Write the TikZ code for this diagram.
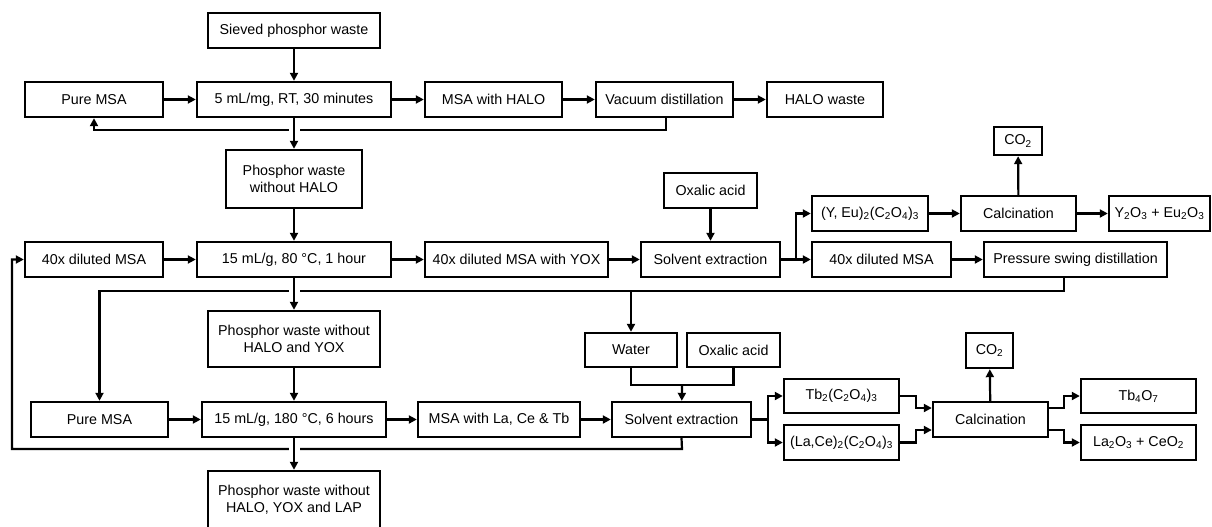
\documentclass[tikz,border=0pt]{standalone}
\usepackage{fontspec}
\setmainfont{Liberation Sans}
\usetikzlibrary{arrows.meta}
\begin{document}
\begin{tikzpicture}[x=1pt,y=-1pt,
  box/.style={draw, line width=2.4pt, inner sep=0pt, align=center,
    minimum height=35pt, font=\fontsize{14.3}{17}\selectfont},
  arr/.style={line width=2.2pt, -{Triangle[length=8pt,width=8pt]}},
  link/.style={line width=2.2pt},
  bridge/.style={preaction={draw, -, white, line width=11pt, shorten <=8pt, shorten >=8pt}}
]
\useasboundingbox (0,0) rectangle (1212,527);

% ---- stage 1: room-temperature leaching ----
\node[box, minimum width=172pt] (sieved) at (294,30.5) {Sieved phosphor waste};
\node[box, minimum width=138pt] (pure1) at (94,99.5) {Pure MSA};
\node[box, minimum width=194pt] (mix1) at (294,99.5) {5 mL/mg, RT, 30 minutes};
\node[box, minimum width=137pt] (msahalo) at (493.5,99.5) {MSA with HALO};
\node[box, minimum width=137pt] (vac) at (664.5,99.5) {Vacuum distillation};
\node[box, minimum width=116pt] (halow) at (825,99.5) {HALO waste};
\node[box, minimum width=136pt, minimum height=58pt] (pw1) at (294,179) {Phosphor waste\\without HALO};

% ---- stage 2: 80 °C leaching ----
\node[box, minimum width=138pt] (dil1) at (94,259.5) {40x diluted MSA};
\node[box, minimum width=194pt] (mix2) at (294,259.5) {15 mL/g, 80 °C, 1 hour};
\node[box, minimum width=183pt] (dilyox) at (516.5,259.5) {40x diluted MSA with YOX};
\node[box, minimum width=93pt] (ox1) at (710.5,190.5) {Oxalic acid};
\node[box, minimum width=139pt] (se1) at (710.5,259.5) {Solvent extraction};
\node[box, minimum width=116pt] (yeu) at (870,213.5) {(Y, Eu)\textsubscript{2}(C\textsubscript{2}O\textsubscript{4})\textsubscript{3}};
\node[box, minimum width=115pt] (calc1) at (1018.5,213.5) {Calcination};
\node[box, minimum width=101pt] (yeo) at (1159.5,213.5) {Y\textsubscript{2}O\textsubscript{3} + Eu\textsubscript{2}O\textsubscript{3}};
\node[box, minimum width=48pt, minimum height=28pt] (co2a) at (1018,141) {CO\textsubscript{2}};
\node[box, minimum width=139pt] (dil2) at (881.5,259.5) {40x diluted MSA};
\node[box, minimum width=183pt] (psd) at (1075.5,259.5) {Pressure swing distillation};
\node[box, minimum width=172pt, minimum height=56pt] (pw2) at (294,339) {Phosphor waste without\\HALO and YOX};

% ---- stage 3: 180 °C leaching ----
\node[box, minimum width=92pt, minimum height=34pt] (water) at (631,350) {Water};
\node[box, minimum width=93pt, minimum height=34pt] (ox2) at (733.5,350) {Oxalic acid};
\node[box, minimum width=137pt] (pure2) at (99.5,419.5) {Pure MSA};
\node[box, minimum width=184pt] (mix3) at (294,419.5) {15 mL/g, 180 °C, 6 hours};
\node[box, minimum width=162pt] (msalct) at (499,419.5) {MSA with La, Ce \& Tb};
\node[box, minimum width=139pt] (se2) at (681.5,419.5) {Solvent extraction};
\node[box, minimum width=115pt, minimum height=34pt] (tbox) at (841.5,396) {Tb\textsubscript{2}(C\textsubscript{2}O\textsubscript{4})\textsubscript{3}};
\node[box, minimum width=115pt] (lace) at (841.5,442.5) {(La,Ce)\textsubscript{2}(C\textsubscript{2}O\textsubscript{4})\textsubscript{3}};
\node[box, minimum width=115pt] (calc2) at (990.5,419.5) {Calcination};
\node[box, minimum width=47pt] (co2b) at (989.5,350.5) {CO\textsubscript{2}};
\node[box, minimum width=115pt, minimum height=34pt] (tbo) at (1138.5,396) {Tb\textsubscript{4}O\textsubscript{7}};
\node[box, minimum width=115pt] (lao) at (1138.5,442.5) {La\textsubscript{2}O\textsubscript{3} + CeO\textsubscript{2}};
\node[box, minimum width=172pt, minimum height=58pt] (pw3) at (294,500) {Phosphor waste without\\HALO, YOX and LAP};

% ---- junction points ----
\coordinate (r1) at (666,130);
\coordinate (s1) at (796,259.5);
\coordinate (r2) at (1064,291);
\coordinate (m) at (682,385);
\coordinate (r3) at (682,449);
\coordinate (lft) at (12,449);
\coordinate (s2) at (768,419.5);
\coordinate (j1) at (916,408);
\coordinate (j2) at (916,430);
\coordinate (j3) at (1064,408);
\coordinate (j4) at (1064,430);

% ---- recycle lines (drawn first, so the crossings can bridge them) ----
\draw[arr] (vac.south -| r1) -- (r1) -| (pure1.south);
\draw[arr] (psd.south -| r2) -- (r2) -| (pure2.north);
\draw[arr] (water.north |- r2) -- (water.north);
\draw[arr] (se2.south) -- (r3) -- (lft) |- (dil1.west);

% ---- stage 1 flow ----
\draw[arr] (sieved) -- (mix1);
\draw[arr] (pure1) -- (mix1);
\draw[arr] (mix1) -- (msahalo);
\draw[arr] (msahalo) -- (vac);
\draw[arr] (vac) -- (halow);
\draw[arr, bridge] (mix1) -- (pw1);

% ---- stage 2 flow ----
\draw[arr] (pw1) -- (mix2);
\draw[arr] (dil1) -- (mix2);
\draw[arr] (mix2) -- (dilyox);
\draw[arr] (dilyox) -- (se1);
\draw[arr] (ox1) -- (se1);
\draw[link] (se1) -- (s1);
\draw[arr] (s1) |- (yeu);
\draw[arr] (s1) -- (dil2);
\draw[arr] (yeu) -- (calc1);
\draw[arr] (calc1) -- (yeo);
\draw[arr] (calc1) -- (co2a);
\draw[arr] (dil2) -- (psd);
\draw[arr, bridge] (mix2) -- (pw2);

% ---- stage 3 flow ----
\draw[arr] (pw2) -- (mix3);
\draw[arr] (pure2) -- (mix3);
\draw[arr] (mix3) -- (msalct);
\draw[arr] (msalct) -- (se2);
\draw[link] (water.south) |- (m) -| (ox2.south);
\draw[arr] (m) -- (se2);
\draw[link] (se2) -- (s2);
\draw[arr] (s2) |- (tbox);
\draw[arr] (s2) |- (lace);
\draw[arr] (tbox.east) -| (j1) -- (calc2.west |- j1);
\draw[arr] (lace.east) -| (j2) -- (calc2.west |- j2);
\draw[arr] (calc2.east |- j3) -- (j3) |- (tbo);
\draw[arr] (calc2.east |- j4) -- (j4) |- (lao);
\draw[arr] (calc2) -- (co2b);
\draw[arr, bridge] (mix3) -- (pw3);
\end{tikzpicture}
\end{document}
